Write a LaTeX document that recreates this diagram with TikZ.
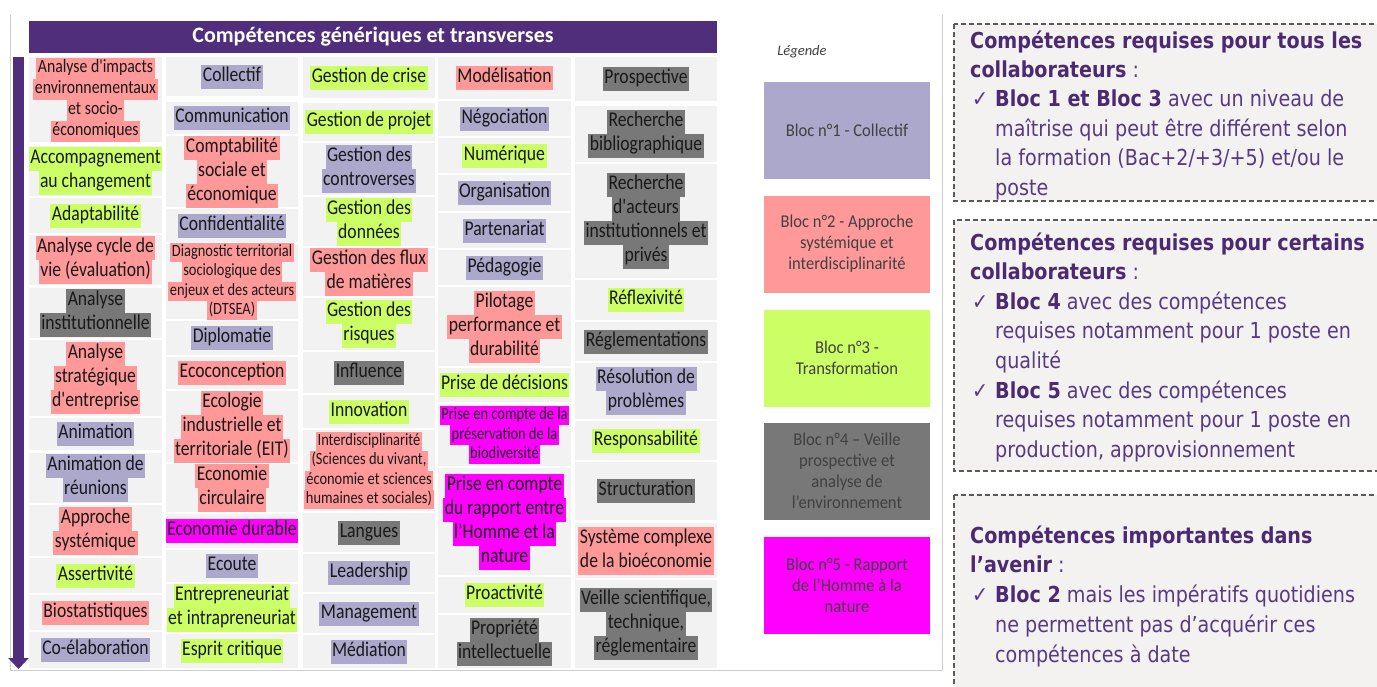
\documentclass[tikz,border=0pt]{standalone}
\usepackage{fontspec}
\setmainfont{Carlito}
\newfontfamily\cellfont{Carlito}[FakeStretch=0.84]
\newfontfamily\legfont{Carlito}[FakeStretch=0.92]
\newfontfamily\notefont{DejaVu Sans}[FakeStretch=0.87]
\usetikzlibrary{arrows.meta}

\definecolor{blocA}{RGB}{171,168,204}
\definecolor{blocB}{RGB}{255,153,153}
\definecolor{blocC}{RGB}{204,255,102}
\definecolor{blocD}{RGB}{120,120,120}
\definecolor{blocE}{RGB}{255,0,255}
\definecolor{cellbg}{RGB}{242,242,242}
\definecolor{headpurple}{RGB}{81,46,124}
\definecolor{skillink}{RGB}{25,25,25}
\definecolor{legink}{RGB}{64,64,64}
\definecolor{notehead}{RGB}{75,42,115}
\definecolor{noteink}{RGB}{88,58,132}
\definecolor{notebg}{RGB}{243,242,240}
\definecolor{notedash}{RGB}{90,90,90}
\definecolor{framegray}{RGB}{205,205,205}

\def\pitchbigtxt{24}
\def\pitchmidtxt{21}
\def\pitchsmalltxt{19.3}

\newcommand{\colbounds}[1]{\ifcase#1\or
  \def\xl{29}\def\xr{162}\or
  \def\xl{166}\def\xr{298}\or
  \def\xl{303}\def\xr{435}\or
  \def\xl{438}\def\xr{571}\or
  \def\xl{575}\def\xr{717}\fi}

% one cell of the grid: [size] column, top, bottom, bloc colour, lines
\newcommand{\skill}[6][bigtxt]{%
  \colbounds{#2}%
  \edef\lp{\csname pitch#1\endcsname}%
  \fill[cellbg] (\xl,#3) rectangle (\xr,#4);
  \foreach \txt [count=\k] in {#6} {\xdef\nlines{\k}}
  \foreach \txt [count=\i] in {#6}
    \node[skill, #1, fill=#5] (s#2-#3-\i) at ({(\xl+\xr)/2}, {(#3+#4)/2+(\i-(\nlines+1)/2)*\lp}) {\txt};
}

\newcommand{\chk}{\makebox[25pt][l]{\hspace{2pt}✓}}
\newcommand{\ind}{\hspace*{25pt}}
\newcommand{\hl}[1]{\textbf{\color{notehead}#1}}

\begin{document}
\begin{tikzpicture}[x=1pt, y=-1pt,
  skill/.style={inner xsep=1.5pt, inner ysep=0pt, outer sep=0pt, text=skillink},
  bigtxt/.style={font=\cellfont\fontsize{21}{24}\selectfont, text height=16.8pt, text depth=7.2pt},
  midtxt/.style={font=\cellfont\fontsize{18.8}{21}\selectfont, text height=14.8pt, text depth=6.2pt},
  smalltxt/.style={font=\cellfont\fontsize{17.2}{19}\selectfont, text height=13.7pt, text depth=5.6pt},
  headbar/.style={fill=headpurple, text=white, font=\bfseries\fontsize{22}{24}\selectfont,
    minimum width=688pt, minimum height=32pt, inner sep=0pt},
  flow/.style={headpurple, line width=11pt, -{Triangle[width=20pt,length=11pt]}},
  frameline/.style={draw=framegray, line width=1pt},
  legtitle/.style={text=legink, font=\itshape\fontsize{14.5}{16}\selectfont},
  legbox/.style={minimum width=166pt, minimum height=97pt, inner sep=0pt, align=center,
    text=legink, font=\legfont\fontsize{18}{21}\selectfont},
  notebox/.style={draw=notedash, fill=notebg, line width=1.2pt, dash pattern=on 5pt off 3pt},
  noteline/.style={anchor=base west, inner sep=0pt, text=noteink,
    font=\notefont\fontsize{22}{29}\selectfont}]
\useasboundingbox (0,0) rectangle (1377,686);
\fill[white] (0,0) rectangle (1377,686);
\clip (0,0) rectangle (1377,686);

\draw[frameline] (10,15) -- (10,670) -- (942,670) -- (942,15);

\node[headbar] (head) at (373,37) {Compétences génériques et transverses};
\coordinate (flowtop) at (18.5,57);
\coordinate (flowend) at (18.5,669);
\draw[flow] (flowtop) -- (flowend);

\skill[midtxt]{1}{57}{142}{blocB}{Analyse d'impacts, environnementaux, et socio-, économiques}
\skill{1}{146}{196}{blocC}{Accompagnement, au changement}
\skill{1}{198}{233}{blocC}{Adaptabilité}
\skill{1}{235}{285}{blocB}{Analyse cycle de, vie (évaluation)}
\skill{1}{288}{338}{blocD}{Analyse, institutionnelle}
\skill{1}{340}{416}{blocB}{Analyse, stratégique, d'entreprise}
\skill{1}{418}{450}{blocA}{Animation}
\skill{1}{453}{503}{blocA}{Animation de, réunions}
\skill{1}{505}{556}{blocB}{Approche, systémique}
\skill{1}{558}{593}{blocC}{Assertivité}
\skill{1}{595}{630}{blocB}{Biostatistiques}
\skill{1}{632}{668}{blocA}{Co-élaboration}

\skill{2}{57}{96}{blocA}{Collectif}
\skill{2}{102}{134}{blocA}{Communication}
\skill{2}{136}{207}{blocB}{Comptabilité, sociale et, économique}
\skill{2}{209}{242}{blocA}{Confidentialité}
\skill[smalltxt]{2}{244}{319}{blocB}{Diagnostic territorial, sociologique des, enjeux et des acteurs, (DTSEA)}
\skill{2}{321}{355}{blocA}{Diplomatie}
\skill{2}{357}{389}{blocB}{Ecoconception}
\skill{2}{391}{462}{blocB}{Ecologie, industrielle et, territoriale (EIT)}
\skill{2}{464}{512}{blocB}{Economie, circulaire}
\skill{2}{514}{548}{blocE}{Economie durable}
\skill{2}{550}{582}{blocA}{Ecoute}
\skill{2}{584}{632}{blocC}{Entrepreneuriat, et intrapreneuriat}
\skill{2}{634}{668}{blocC}{Esprit critique}

\skill{3}{57}{98}{blocC}{Gestion de crise}
\skill{3}{103}{141}{blocC}{Gestion de projet}
\skill{3}{143}{195}{blocA}{Gestion des, controverses}
\skill{3}{197}{246}{blocC}{Gestion des, données}
\skill{3}{248}{296}{blocB}{Gestion des flux, de matières}
\skill{3}{298}{350}{blocC}{Gestion des, risques}
\skill{3}{352}{393}{blocD}{Influence}
\skill{3}{395}{428}{blocC}{Innovation}
\skill[smalltxt]{3}{430}{511}{blocB}{Interdisciplinarité, {(Sciences du vivant,}, économie et sciences, humaines et sociales)}
\skill{3}{513}{552}{blocD}{Langues}
\skill{3}{554}{592}{blocA}{Leadership}
\skill{3}{594}{633}{blocA}{Management}
\skill{3}{635}{668}{blocA}{Médiation}

\skill{4}{57}{99}{blocB}{Modélisation}
\skill{4}{101}{136}{blocA}{Négociation}
\skill{4}{138}{173}{blocC}{Numérique}
\skill{4}{175}{211}{blocA}{Organisation}
\skill{4}{213}{248}{blocA}{Partenariat}
\skill{4}{250}{285}{blocA}{Pédagogie}
\skill{4}{287}{366}{blocB}{Pilotage, performance et, durabilité}
\skill{4}{368}{402}{blocC}{Prise de décisions}
\skill[smalltxt]{4}{404}{466}{blocE}{Prise en compte de la, préservation de la, biodiversité}
\skill{4}{468}{575}{blocE}{Prise en compte, du rapport entre, l’Homme et la, nature}
\skill{4}{577}{613}{blocC}{Proactivité}
\skill{4}{615}{668}{blocD}{Propriété, intellectuelle}

\skill{5}{57}{101}{blocD}{Prospective}
\skill{5}{106}{162}{blocD}{Recherche, bibliographique}
\skill{5}{164}{278}{blocD}{Recherche, d'acteurs, institutionnels et, privés}
\skill{5}{280}{320}{blocC}{Réflexivité}
\skill{5}{322}{361}{blocD}{Réglementations}
\skill{5}{363}{419}{blocA}{Résolution de, problèmes}
\skill{5}{421}{460}{blocC}{Responsabilité}
\skill{5}{462}{520}{blocD}{Structuration}
\skill{5}{523}{578}{blocB}{Système complexe, de la bioéconomie}
\skill{5}{580}{668}{blocD}{{Veille scientifique,}, {technique,}, réglementaire}

\node[legtitle] (legend) at (802,52) {Légende};
\node[legbox, fill=blocA] (legA) at (847,130.5) {Bloc n°1 - Collectif};
\node[legbox, fill=blocB] (legB) at (847,244) {Bloc n°2 - Approche\\systémique et\\interdisciplinarité};
\node[legbox, fill=blocC] (legC) at (847,358) {Bloc n°3 -\\Transformation};
\node[legbox, fill=blocD] (legD) at (847,471) {Bloc n°4 – Veille\\prospective et\\analyse de\\l’environnement};
\node[legbox, fill=blocE] (legE) at (847,585) {Bloc n°5 - Rapport\\de l’Homme à la\\nature};

\draw[notebox] (954,24) rectangle (1395,201);
\draw[notebox] (954,220) rectangle (1395,471);
\draw[notebox] (954,495) rectangle (1395,700);

\foreach \txt [count=\i] in {\hl{Compétences requises pour tous les}, \hl{collaborateurs} :,
    \chk\hl{Bloc 1 et Bloc 3} avec un niveau de, \ind maîtrise qui peut être différent selon,
    \ind la formation (Bac+2/+3/+5) et/ou le, \ind poste}
  \node[noteline] (na\i) at (970,{48+29.4*(\i-1)}) {\txt};
\foreach \txt [count=\i] in {\hl{Compétences requises pour certains}, \hl{collaborateurs} :,
    \chk\hl{Bloc 4} avec des compétences, \ind requises notamment pour 1 poste en, \ind qualité,
    \chk\hl{Bloc 5} avec des compétences, \ind requises notamment pour 1 poste en,
    {\ind production, approvisionnement}}
  \node[noteline] (nb\i) at (970,{250+29.6*(\i-1)}) {\txt};
\foreach \txt [count=\i] in {\hl{Compétences importantes dans}, \hl{l’avenir} :,
    \chk\hl{Bloc 2} mais les impératifs quotidiens, \ind ne permettent pas d’acquérir ces,
    \ind compétences à date}
  \node[noteline] (nc\i) at (970,{543+29.8*(\i-1)}) {\txt};
\end{tikzpicture}
\end{document}
